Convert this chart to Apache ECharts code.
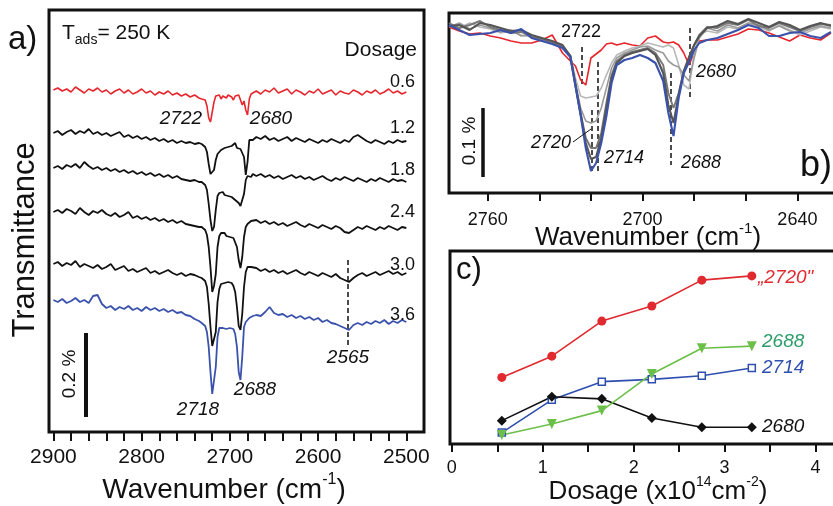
<!DOCTYPE html>
<html><head><meta charset="utf-8">
<script src="https://cdn.jsdelivr.net/npm/echarts@6/dist/echarts.min.js"></script>
<style>html,body{margin:0;padding:0;background:#fff}#c{width:833px;height:506px}</style>
</head><body><div id="c"></div>
<script>
// ---------- Panel a: IR spectra (wavenumber, offset transmittance in arbitrary units) ----------
const wnA = [2900,2895,2890,2885,2880,2875,2870,2865,2860,2855,2850,2845,2840,2835,2830,2825,2820,2815,2810,2805,2800,2795,2790,2785,2780,2775,2770,2765,2760,2755,2750,2745,2740,2735,
2732,2730,2728,2726,2724,2722,2720,2718,2716,2714,2712,2710,2708,2706,2704,2702,2700,2698,2696,2694,2692,2690,2688,2686,2684,2682,2680,2678,2676,2674,
2670,2665,2660,2655,2650,2645,2640,2635,2630,2625,2620,2615,2610,2605,2600,2595,2590,2585,2580,2575,2570,2565,2560,2555,2550,2545,2540,2535,2530,2525,2520,2515,2510,2505,2500];
const specA06 = [342,344,341,343,340,345,342,339,343,341,344,340,342,338,341,343,339,342,338,340,343,339,341,337,340,338,341,337,339,336,338,335,337,334,
333,335,332,326,314,310,320,330,336,334,337,333,336,338,334,337,339,335,332,336,334,337,332,327,331,322,317,333,338,340,
341,338,342,340,344,339,341,343,338,342,340,337,341,339,343,338,340,342,337,341,339,338,342,340,337,341,339,342,338,340,343,339,341,338,340];
const specA12 = [299,301,297,300,302,298,301,299,303,298,300,297,299,296,298,300,295,297,294,296,293,295,292,294,291,293,290,292,289,291,289,290,288,289,
288,287,285,280,268,258,256,262,272,278,280,282,281,284,283,285,284,286,287,289,284,286,283,285,275,257,270,292,294,292,
295,293,296,292,294,291,293,295,291,294,292,290,293,291,289,292,290,293,291,289,292,290,295,297,294,291,289,292,290,288,291,289,292,290,291];
const specA18 = [264,266,263,267,265,268,264,270,266,263,265,262,264,261,263,260,262,259,261,258,260,257,259,256,258,255,257,254,256,253,252,251,252,250,
250,249,247,242,228,212,201,205,222,236,239,238,240,237,239,236,238,235,234,232,233,229,226,224,238,252,256,257,255,258,
256,258,255,257,254,256,253,255,257,254,256,253,255,252,254,256,253,251,254,252,255,253,251,254,252,250,253,251,254,252,250,253,251,252,250];
const specA24 = [220,222,219,223,221,218,224,220,217,221,219,222,218,216,219,215,217,220,214,216,213,215,212,214,211,213,210,212,209,211,208,207,206,205,
205,204,202,197,185,165,140,146,158,185,196,199,197,199,196,198,195,197,194,192,185,172,164,175,195,205,208,210,211,209,
212,209,211,208,210,207,209,206,208,210,207,205,208,206,204,207,205,203,206,204,200,199,202,205,203,206,204,202,205,203,206,204,202,205,204];
const specA30 = [168,170,166,169,167,171,165,168,166,164,167,163,165,168,162,164,166,161,163,160,162,164,159,161,158,160,162,159,157,159,156,158,157,155,
154,153,151,145,128,105,86,84,100,130,143,148,146,149,147,150,148,149,146,140,125,106,102,118,145,160,165,167,165,163,
164,161,163,160,162,159,161,158,160,162,159,157,160,158,156,159,157,155,158,154,152,150,154,157,159,156,158,160,157,159,161,158,160,157,159];
const specA36 = [132,130,133,129,131,134,130,132,129,136,137,128,124,126,122,125,123,126,122,124,121,125,122,124,121,123,120,122,119,120,117,116,113,111,
109,108,106,100,85,60,38,40,65,95,104,106,104,106,103,105,104,106,103,98,85,60,52,75,105,110,112,114,113,116,
117,116,120,125,119,117,118,115,117,114,116,113,115,112,114,110,112,109,108,106,104,102,107,109,107,110,108,111,109,112,108,111,109,112,110];
const dosageLabels = ['0.6','1.2','1.8','2.4','3.0','3.6'];
const ticksA = [2900,2880,2860,2840,2820,2800,2780,2760,2740,2720,2700,2680,2660,2640,2620,2600,2580,2560,2540,2520,2500];
const labelsA = [2900,2800,2700,2600,2500];

// ---------- Panel b: zoomed spectra ----------
const wnB = [2775,2771,2767,2763,2759,2755,2751,2747,2743,2739,2735,2731,2728,2726,2724,2722,2720,2718,2716,2714,2712,2710,2707,2704,2701,2698,2695,2692,2690,2688,2686,2684,2682,2680,2678,2675,2671,2667,2663,2659,2655,2651,2647,2643,2639,2635,2631,2627];
const specB06 = [166,162,159,160,157,155,152,150,150,153,158,140,132,127,113,108,135,139,143,149,150,148,150,148,147,155,157,151,150,151,148,140,128,140,152,153,153,156,159,164,163,160,156,152,158,155,153,160];
const specB12 = [168,165,170,166,164,160,162,158,156,152,150,146,138,115,97,95,96,97,105,118,130,138,142,145,147,150,148,146,148,145,128,108,104,140,158,162,160,166,164,170,166,162,168,163,158,162,166,164];
const specB18 = [166,170,164,168,165,161,163,157,158,153,150,146,138,110,85,72,70,72,85,105,125,135,140,143,146,147,143,140,132,128,126,118,112,135,155,165,162,168,165,170,168,163,167,162,160,164,167,165];
const specB24 = [170,165,168,172,166,163,160,161,156,154,151,147,137,108,80,55,45,45,60,90,118,132,138,141,143,145,140,128,100,85,100,122,135,148,158,166,165,170,168,173,167,165,170,166,162,166,169,168];
const specB30 = [167,168,163,170,168,165,162,163,158,155,152,148,137,108,79,50,34,36,55,85,115,130,137,140,142,144,138,120,88,70,98,122,136,148,157,165,167,172,169,174,170,166,171,168,163,167,170,167];
const specB36 = [168,163,158,159,160,163,160,164,155,152,149,145,136,107,78,45,22,30,50,77,110,128,133,135,138,135,130,112,80,57,95,120,131,143,150,153,155,159,163,168,165,157,157,160,161,157,155,161];
const ticksB = [2760,2740,2720,2700,2680,2660,2640];
const labelsB = [2760,2700,2640];

// ---------- Panel c: intensities vs dosage ----------
const dose = [0.55,1.1,1.65,2.2,2.75,3.3];
const int2720 = [34.5,45.5,63.7,71.5,84.9,87.1];
const int2688 = [4.7,10.4,17.3,36.3,49.6,50.7];
const int2714 = [5.9,22.9,32.3,33.5,35.4,39.4];
const int2680 = [12.1,24.5,23.4,13.5,8.7,8.7];
const ticksC = [0,0.5,1,1.5,2,2.5,3,3.5,4];
const labelsC = [0,1,2,3,4];

const FF = '"Liberation Sans", Arial, sans-serif';
const RED = '#e8262d', BLUE = '#3a52ab', BLK = '#111111';
const zip = (xs, ys) => xs.map((x, i) => [x, ys[i]]);

function txt(x, y, text, size, opts) {
  opts = opts || {};
  return {
    type: 'text', x: x, y: y, rotation: opts.rot || 0, z: 100,
    style: {
      text: text,
      font: (opts.italic ? 'italic ' : '') + size + 'px ' + FF,
      fill: opts.color || BLK,
      align: opts.align || 'center',
      verticalAlign: 'middle'
    }
  };
}
function richTxt(x, y, text, rich, align) {
  return { type: 'text', x: x, y: y, z: 100,
    style: { text: text, rich: rich, align: align || 'center', verticalAlign: 'middle', fill: BLK } };
}
function supRich(main, sup, lh) {
  return {
    m: { fontSize: main, fontFamily: FF, lineHeight: lh, verticalAlign: 'middle', fill: BLK },
    s: { fontSize: sup, fontFamily: FF, lineHeight: sup, verticalAlign: 'top', fill: BLK }
  };
}

const dashStyle = { type: [5, 3], color: BLK, width: 1.5 };
function vline(x, y1, y2, style) {
  return [{ coord: [x, y1], lineStyle: style }, { coord: [x, y2] }];
}

function axisX(grid, min, max, ticks, labels, fs, margin, inverse, len) {
  return {
    type: 'value', gridIndex: grid, min: min, max: max, inverse: inverse,
    axisLine: { show: false }, splitLine: { show: false },
    axisTick: { show: true, customValues: ticks, length: len, lineStyle: { color: BLK, width: 2 } },
    minorTick: { show: false },
    axisLabel: { customValues: labels, fontSize: fs, fontFamily: FF, color: BLK, margin: margin,
      formatter: function (v) { return String(v); } }
  };
}
function axisY(grid, min, max) {
  return { type: 'value', gridIndex: grid, min: min, max: max, show: false, splitLine: { show: false } };
}
function lineSer(xi, data, color, width, extra) {
  return Object.assign({
    type: 'line', xAxisIndex: xi, yAxisIndex: xi, data: data, showSymbol: false, symbol: 'none',
    lineStyle: { color: color, width: width }, itemStyle: { color: color }, animation: false, z: 5
  }, extra || {});
}

const gridBase = { show: true, borderColor: BLK, borderWidth: 3, backgroundColor: 'transparent', containLabel: false, outerBoundsMode: 'none' };

const graphics = [
  // panel a
  txt(8, 40, 'a)', 33, { align: 'left' }),
  richTxt(62, 33, '{m|T}{b|ads}{m|= 250 K}', {
    m: { fontSize: 21, fontFamily: FF, lineHeight: 28, verticalAlign: 'middle', fill: BLK },
    b: { fontSize: 14, fontFamily: FF, lineHeight: 14, verticalAlign: 'bottom', fill: BLK }
  }, 'left'),
  txt(417, 50, 'Dosage', 21, { align: 'right' }),
  txt(415, 82, dosageLabels[0], 18, { align: 'right' }),
  txt(415, 128, dosageLabels[1], 18, { align: 'right' }),
  txt(415, 170, dosageLabels[2], 18, { align: 'right' }),
  txt(415, 212, dosageLabels[3], 18, { align: 'right' }),
  txt(415, 265, dosageLabels[4], 18, { align: 'right' }),
  txt(415, 315, dosageLabels[5], 18, { align: 'right' }),
  txt(181, 119, '2722', 19, { italic: true }),
  txt(271, 119, '2680', 19, { italic: true }),
  txt(198, 410, '2718', 19, { italic: true }),
  txt(255, 390, '2688', 19, { italic: true }),
  txt(348, 358, '2565', 19, { italic: true }),
  txt(25, 240, 'Transmittance', 31, { rot: Math.PI / 2 }),
  txt(70, 374, '0.2 %', 19, { rot: Math.PI / 2 }),
  richTxt(224, 490, '{m|Wavenumber (cm}{s|-1}{m|)}', supRich(28, 16, 36)),
  // panel b
  txt(581, 32, '2722', 18),
  txt(551, 143, '2720', 18, { italic: true }),
  { type: 'line', z: 100, shape: { x1: 573, y1: 142, x2: 591, y2: 129 }, style: { stroke: BLK, lineWidth: 1 } },
  txt(624, 158, '2714', 18, { italic: true }),
  txt(701, 163, '2688', 18, { italic: true }),
  txt(716, 72, '2680', 18, { italic: true }),
  txt(470, 141, '0.1 %', 19, { rot: Math.PI / 2 }),
  txt(800, 166, 'b)', 36, { align: 'left' }),
  richTxt(648, 238, '{m|Wavenumber (cm}{s|-1}{m|)}', supRich(26, 15, 34)),
  // panel c
  txt(456, 270, 'c)', 31, { align: 'left' }),
  txt(758, 278, '\u201E2720"', 19, { italic: true, align: 'left', color: '#e02a2f' }),
  txt(762, 342, '2688', 19, { italic: true, align: 'left', color: '#2c9c6a' }),
  txt(762, 368, '2714', 19, { italic: true, align: 'left', color: '#2e4fae' }),
  txt(762, 427, '2680', 19, { italic: true, align: 'left' }),
  richTxt(658, 492, '{m|Dosage (x10}{s|14}{m|cm}{s|-2}{m|)}', supRich(26, 14, 34))
];

const option = {
  animation: false,
  backgroundColor: '#fff',
  grid: [
    Object.assign({ left: 49, top: 10, width: 375, height: 422 }, gridBase),
    Object.assign({ left: 449, top: 13, width: 400, height: 180 }, gridBase),
    Object.assign({ left: 450, top: 251, width: 400, height: 193 }, gridBase)
  ],
  xAxis: [
    axisX(0, 2480, 2905, ticksA, labelsA, 21, 15, true, 9),
    axisX(1, 2620, 2775, ticksB, labelsB, 18, 18, true, 8),
    axisX(2, -0.02, 4.38, ticksC, labelsC, 18, 15, false, 8)
  ],
  yAxis: [axisY(0, 0, 422), axisY(1, 0, 180), axisY(2, 0, 100)],
  series: [
    lineSer(0, zip(wnA, specA06), RED, 1.6),
    lineSer(0, zip(wnA, specA12), BLK, 1.8),
    lineSer(0, zip(wnA, specA18), BLK, 1.8),
    lineSer(0, zip(wnA, specA24), BLK, 1.8),
    lineSer(0, zip(wnA, specA30), BLK, 1.8, {
      markLine: { silent: true, symbol: ['none', 'none'], label: { show: false }, animation: false,
        data: [vline(2566, 172, 85, dashStyle), vline(2863.5, 15, 99, { type: 'solid', color: BLK, width: 4 })] }
    }),
    lineSer(0, zip(wnA, specA36), BLUE, 1.8),

    lineSer(1, zip(wnB, specB06), RED, 1.6),
    lineSer(1, zip(wnB, specB12), '#b8b8b8', 1.6),
    lineSer(1, zip(wnB, specB18), '#9a9a9a', 1.6),
    lineSer(1, zip(wnB, specB24), '#787878', 1.9),
    lineSer(1, zip(wnB, specB30), '#555555', 2.1),
    lineSer(1, zip(wnB, specB36), BLUE, 2.1, {
      markLine: { silent: true, symbol: ['none', 'none'], label: { show: false }, animation: false,
        data: [
          vline(2723.6, 146, 106, dashStyle),
          vline(2719.7, 83, 20, dashStyle),
          vline(2717.4, 131, 20, dashStyle),
          vline(2689.1, 120, 28, dashStyle),
          vline(2681.7, 165, 95, dashStyle),
          vline(2761.8, 16, 85, { type: 'solid', color: BLK, width: 3.5 })
        ] }
    }),

    { type: 'line', xAxisIndex: 2, yAxisIndex: 2, data: zip(dose, int2720), symbol: 'circle', symbolSize: 9,
      lineStyle: { color: '#e02a2f', width: 1.6 }, itemStyle: { color: '#e02a2f' }, animation: false },
    { type: 'line', xAxisIndex: 2, yAxisIndex: 2, data: zip(dose, int2714), symbol: 'rect', symbolSize: 7,
      lineStyle: { color: '#2e4fae', width: 1.6 }, itemStyle: { color: '#fff', borderColor: '#2e4fae', borderWidth: 1.5 }, animation: false },
    { type: 'line', xAxisIndex: 2, yAxisIndex: 2, data: zip(dose, int2680), symbol: 'diamond', symbolSize: 10,
      lineStyle: { color: BLK, width: 1.6 }, itemStyle: { color: BLK }, animation: false },
    { type: 'line', xAxisIndex: 2, yAxisIndex: 2, data: zip(dose, int2688), symbol: 'triangle', symbolRotate: 180, symbolSize: 10,
      lineStyle: { color: '#6cc04a', width: 1.6 }, itemStyle: { color: '#6cc04a' }, animation: false }
  ],
  graphic: graphics
};

const chart = echarts.init(document.getElementById('c'), null, { renderer: 'canvas' });
chart.setOption(option);
</script>
</body></html>
